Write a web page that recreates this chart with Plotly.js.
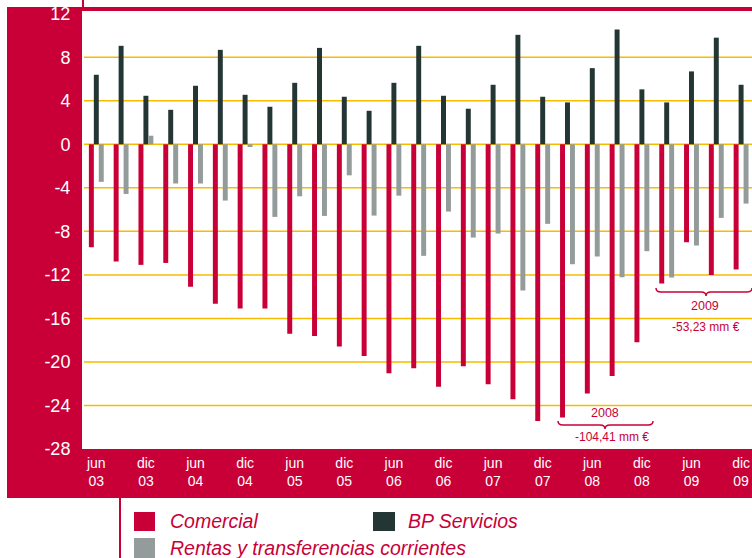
<!DOCTYPE html>
<html>
<head>
<meta charset="utf-8">
<script src="https://cdn.plot.ly/plotly-3.0.1.min.js"></script>
<style>
  html, body { margin: 0; padding: 0; background: #ffffff; }
  #chart { width: 752px; height: 558px; }
</style>
</head>
<body>
<div id="chart"></div>
<script>
// Quarterly balance components, thousand-million euro
const quarters = [
  'jun 03', 'sep 03', 'dic 03',
  'mar 04', 'jun 04', 'sep 04', 'dic 04',
  'mar 05', 'jun 05', 'sep 05', 'dic 05',
  'mar 06', 'jun 06', 'sep 06', 'dic 06',
  'mar 07', 'jun 07', 'sep 07', 'dic 07',
  'mar 08', 'jun 08', 'sep 08', 'dic 08',
  'mar 09', 'jun 09', 'sep 09', 'dic 09'
];

const comercial = [
  -9.46, -10.77, -11.08,
  -10.9, -13.1, -14.65, -15.08,
  -15.08, -17.4, -17.62, -18.57,
  -19.46, -21.05, -20.59, -22.27,
  -20.4, -22.06, -23.43, -25.42,
  -25.1, -22.9, -21.3, -18.2,
  -12.8, -9.0, -12.0, -11.5
];

const bpServicios = [
  6.39, 9.05, 4.46,
  3.17, 5.38, 8.68, 4.55,
  3.45, 5.65, 8.86, 4.37,
  3.08, 5.65, 9.05, 4.46,
  3.27, 5.47, 10.06, 4.37,
  3.85, 7.0, 10.55, 5.05,
  3.85, 6.7, 9.8, 5.47
];

const rentas = [
  -3.45, -4.56, 0.79,
  -3.6, -3.6, -5.17, -0.25,
  -6.67, -4.78, -6.58, -2.85,
  -6.55, -4.72, -10.25, -6.18,
  -8.57, -8.2, -13.43, -7.31,
  -11.02, -10.31, -12.21, -9.82,
  -12.24, -9.3, -6.76, -5.45
];

const seriesNames = ['Comercial', 'BP Servicios', 'Rentas y transferencias corrientes'];

const tickLabels = [
  'jun<br>03', 'dic<br>03', 'jun<br>04', 'dic<br>04', 'jun<br>05', 'dic<br>05',
  'jun<br>06', 'dic<br>06', 'jun<br>07', 'dic<br>07', 'jun<br>08', 'dic<br>08',
  'jun<br>09', 'dic<br>09'
];

const yTicks = [12, 8, 4, 0, -4, -8, -12, -16, -20, -24, -28];

const annotatedYears = ['2008', '2009'];

// ---- styling ----
const RED = '#C80037';
const DARK = '#233634';
const GREY = '#939C9B';
const GOLD = '#F7BB00';
const SANS = 'Liberation Sans, Arial, sans-serif';

const W = 752, H = 558;
const M = { l: 82, r: 0, t: 11, b: 109 };
const plotW = W - M.l - M.r, plotH = H - M.t - M.b;
const px = x => (x - M.l) / plotW;     // pixel -> paper x
const py = y => (H - M.b - y) / plotH; // pixel -> paper y

// ---- yearly net balance for the bracket notes ----
function yearTotal(year) {
  const suffix = year.slice(2);
  let s = 0;
  quarters.forEach((q, i) => {
    if (q.endsWith(suffix)) s += comercial[i] + bpServicios[i] + rentas[i];
  });
  return s.toFixed(2).replace('.', ',') + ' mm €';
}

// ---- traces ----
const traces = [
  { name: seriesNames[0], y: comercial, color: RED },
  { name: seriesNames[1], y: bpServicios, color: DARK },
  { name: seriesNames[2], y: rentas, color: GREY }
].map(s => ({
  type: 'bar',
  name: s.name,
  x: quarters,
  y: s.y,
  marker: { color: s.color, line: { width: 0 } },
  hoverinfo: 'skip'
}));

// ---- shapes ----
const shapes = [];
const rect = (x0, y0, x1, y1, color, layer) => shapes.push({
  type: 'rect', xref: 'paper', yref: 'paper',
  x0: px(x0), x1: px(x1), y0: py(y0), y1: py(y1),
  fillcolor: color, line: { width: 0 }, layer: layer || 'below'
});

// red frame: left column, bottom band, top rule, small stem above
rect(7, 7, 82, 498, RED);
rect(7, 449, 752, 498, RED);
rect(82, 7, 752, 11, RED);
rect(82, 0, 84, 7, RED);
// legend stem
rect(119, 498, 121, 558, RED);

// horizontal gold grid
yTicks.filter(v => v < 12 && v > -28).forEach(v => shapes.push({
  type: 'line', xref: 'paper', yref: 'y',
  x0: px(84), x1: 1, y0: v, y1: v,
  line: { color: GOLD, width: 1.5 }, layer: 'below'
}));

// curly braces under each annotated year
function brace(x0, x1, xm, y) {
  const p = (x, yy) => `${px(x)},${py(yy)}`;
  const d = `M${p(x0, y - 4)} Q${p(x0, y)} ${p(x0 + 5, y)} L${p(xm - 5, y)} ` +
            `Q${p(xm, y)} ${p(xm, y + 4)} Q${p(xm, y)} ${p(xm + 5, y)} ` +
            `L${p(x1 - 5, y)} Q${p(x1, y)} ${p(x1, y - 4)}`;
  shapes.push({ type: 'path', xref: 'paper', yref: 'paper', path: d,
                line: { color: RED, width: 1.5 }, layer: 'above' });
}
brace(558, 653, 605, 425);
brace(656, 752, 706, 292);

// legend swatches
rect(134, 512, 155, 531, RED, 'above');
rect(373, 512, 395, 531, DARK, 'above');
rect(134, 538, 155, 558, GREY, 'above');

// ---- annotations ----
const annotations = [];
const note = (x, y, text, size, anchor) => annotations.push({
  xref: 'paper', yref: 'paper', x: px(x), y: py(y),
  xanchor: anchor || 'center', yanchor: 'middle',
  text: text, showarrow: false,
  font: { family: SANS, size: size, color: RED }
});

note(605, 413, annotatedYears[0], 12.5);
note(612, 437, yearTotal(annotatedYears[0]), 12);
note(705, 306, annotatedYears[1], 12.5);
note(706, 327, yearTotal(annotatedYears[1]), 12);

note(168, 521, '<i>' + seriesNames[0] + '</i>', 19.5, 'left');
note(406, 521, '<i>' + seriesNames[1] + '</i>', 19.5, 'left');
note(168, 548, '<i>' + seriesNames[2] + '</i>', 19.5, 'left');

// ---- layout ----
const layout = {
  width: W, height: H,
  margin: M,
  paper_bgcolor: '#ffffff',
  plot_bgcolor: '#ffffff',
  showlegend: false,
  barmode: 'group',
  bargap: 0.4,
  bargroupgap: 0,
  xaxis: {
    type: 'category',
    range: [-0.577, 26.44],
    tickvals: quarters.filter((q, i) => i % 2 === 0),
    ticktext: tickLabels,
    tickfont: { family: SANS, size: 14, color: '#ffffff' },
    ticks: 'outside', ticklen: 1, tickcolor: 'rgba(0,0,0,0)',
    showgrid: false, zeroline: false, showline: false,
    fixedrange: true
  },
  yaxis: {
    range: [-28, 12.25],
    tickvals: yTicks,
    ticktext: yTicks.map(String),
    tickfont: { family: SANS, size: 18, color: '#ffffff' },
    ticks: 'outside', ticklen: 7, tickcolor: 'rgba(0,0,0,0)',
    showgrid: false, zeroline: false, showline: false,
    fixedrange: true
  },
  shapes: shapes,
  annotations: annotations
};

Plotly.newPlot('chart', traces, layout, { displayModeBar: false, staticPlot: true });
</script>
</body>
</html>
